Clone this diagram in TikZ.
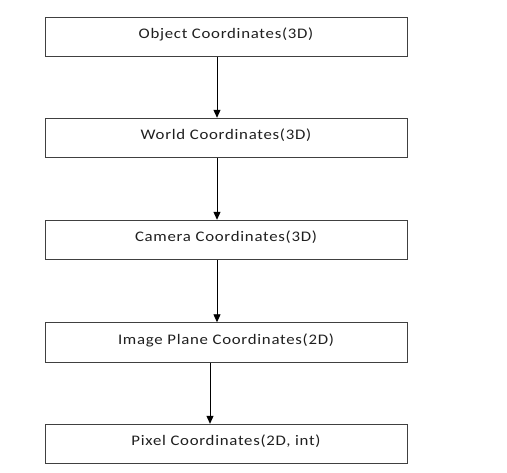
\documentclass[tikz,border=0pt]{standalone}
\usepackage{fontspec}
\setmainfont{Carlito}[LetterSpace=5,FakeStretch=1.15]
\usetikzlibrary{arrows.meta}
\begin{document}
\begin{tikzpicture}[x=1bp,y=1bp,
  box/.style={draw=black!75, line width=0.9bp, minimum width=362bp, minimum height=39.5bp, inner sep=0pt, text height=9.5bp, text depth=5.5bp, font=\fontsize{14.67}{17}\selectfont, text=black!88},
  conn/.style={draw=black, line width=0.9bp, -{Triangle[width=7bp,length=8bp]}}]
\useasboundingbox (0,0) rectangle (507,473);
\node[box] (b1) at (226,436) {Object Coordinates(3D)};
\node[box] (b2) at (226,335) {World Coordinates(3D)};
\node[box] (b3) at (226,233) {Camera Coordinates(3D)};
\node[box] (b4) at (226,130.5) {Image Plane Coordinates(2D)};
\node[box] (b5) at (226,29) {Pixel Coordinates(2D, int)};
\draw[conn] ([xshift=-9bp]b1.south) -- ([xshift=-9bp]b2.north);
\draw[conn] ([xshift=-9bp]b2.south) -- ([xshift=-9bp]b3.north);
\draw[conn] ([xshift=-9bp]b3.south) -- ([xshift=-9bp]b4.north);
\draw[conn] ([xshift=-16bp]b4.south) -- ([xshift=-16bp]b5.north);
\end{tikzpicture}
\end{document}
